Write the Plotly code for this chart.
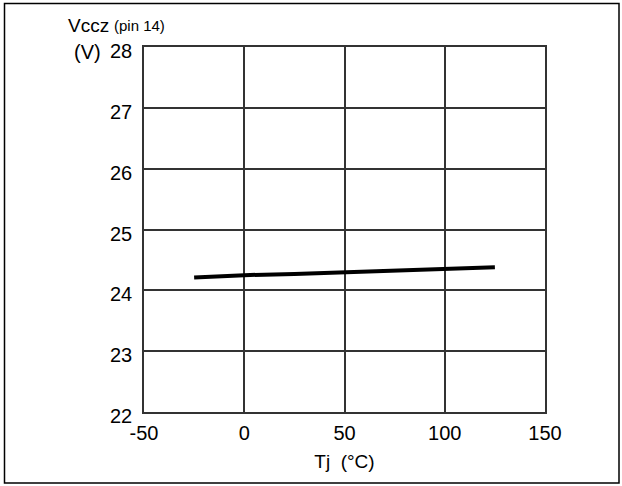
import plotly.graph_objects as go

# Data
tj_c = [-25, 0, 25, 50, 75, 100, 125]
vccz_v = [24.21, 24.25, 24.27, 24.30, 24.33, 24.36, 24.38]

x_ticks = [-50, 0, 50, 100, 150]
x_tick_text = ["-50", "0", "50", "100", "150"]
y_ticks = [22, 23, 24, 25, 26, 27, 28]

W, H = 622, 486
L, R, T, B = 144, 77, 47, 74
pw, ph = W - L - R, H - T - B

def px2x(px):
    return (px - L) / pw

def py2y(py):
    return (H - B - py) / ph

fig = go.Figure()
fig.add_trace(go.Scatter(x=tj_c, y=vccz_v, mode="lines",
                         line=dict(color="black", width=4), showlegend=False))

fam = "Liberation Sans, Arial, Helvetica, sans-serif"

fig.update_layout(
    width=W, height=H,
    margin=dict(l=L, r=R, t=T, b=B),
    paper_bgcolor="white", plot_bgcolor="white",
    font=dict(family=fam, color="black", size=20),
    xaxis=dict(range=[-50, 150], tickvals=x_ticks, ticktext=x_tick_text,
               showgrid=True, gridcolor="#333", gridwidth=1.5,
               showline=True, linecolor="#333", linewidth=1.5, mirror=True,
               zeroline=False, ticks="", ticklabelstandoff=2,
               tickfont=dict(family=fam, size=20, color="black"),
               title=dict(text="Tj  (°C)", font=dict(family=fam, size=19, color="black"),
                          standoff=12)),
    yaxis=dict(range=[22, 28], tickvals=y_ticks, showgrid=True,
               gridcolor="#333", gridwidth=1.5,
               showline=True, linecolor="#333", linewidth=1.5, mirror=True,
               zeroline=False, ticks="", ticklabelstandoff=6, ticklabelshift=4,
               tickfont=dict(family=fam, size=20, color="black")),
    shapes=[dict(type="rect", xref="paper", yref="paper",
                 x0=px2x(4.5), x1=px2x(619), y0=py2y(483), y1=py2y(3.5),
                 line=dict(color="black", width=1.5), fillcolor="rgba(0,0,0,0)",
                 layer="below")],
    annotations=[
        dict(text="Vccz", xref="paper", yref="paper", x=px2x(66), y=py2y(25),
             xanchor="left", yanchor="middle", showarrow=False,
             font=dict(family=fam, color="black", size=19)),
        dict(text="(pin 14)", xref="paper", yref="paper", x=px2x(112), y=py2y(26),
             xanchor="left", yanchor="middle", showarrow=False,
             font=dict(family=fam, color="black", size=15)),
        dict(text="(V)", xref="paper", yref="paper", x=px2x(72), y=py2y(52),
             xanchor="left", yanchor="middle", showarrow=False,
             font=dict(family=fam, color="black", size=20)),
    ],
)

fig.write_html("out.html", config={"displayModeBar": False},
               post_script="document.body.style.margin='0';document.body.style.padding='0';")
